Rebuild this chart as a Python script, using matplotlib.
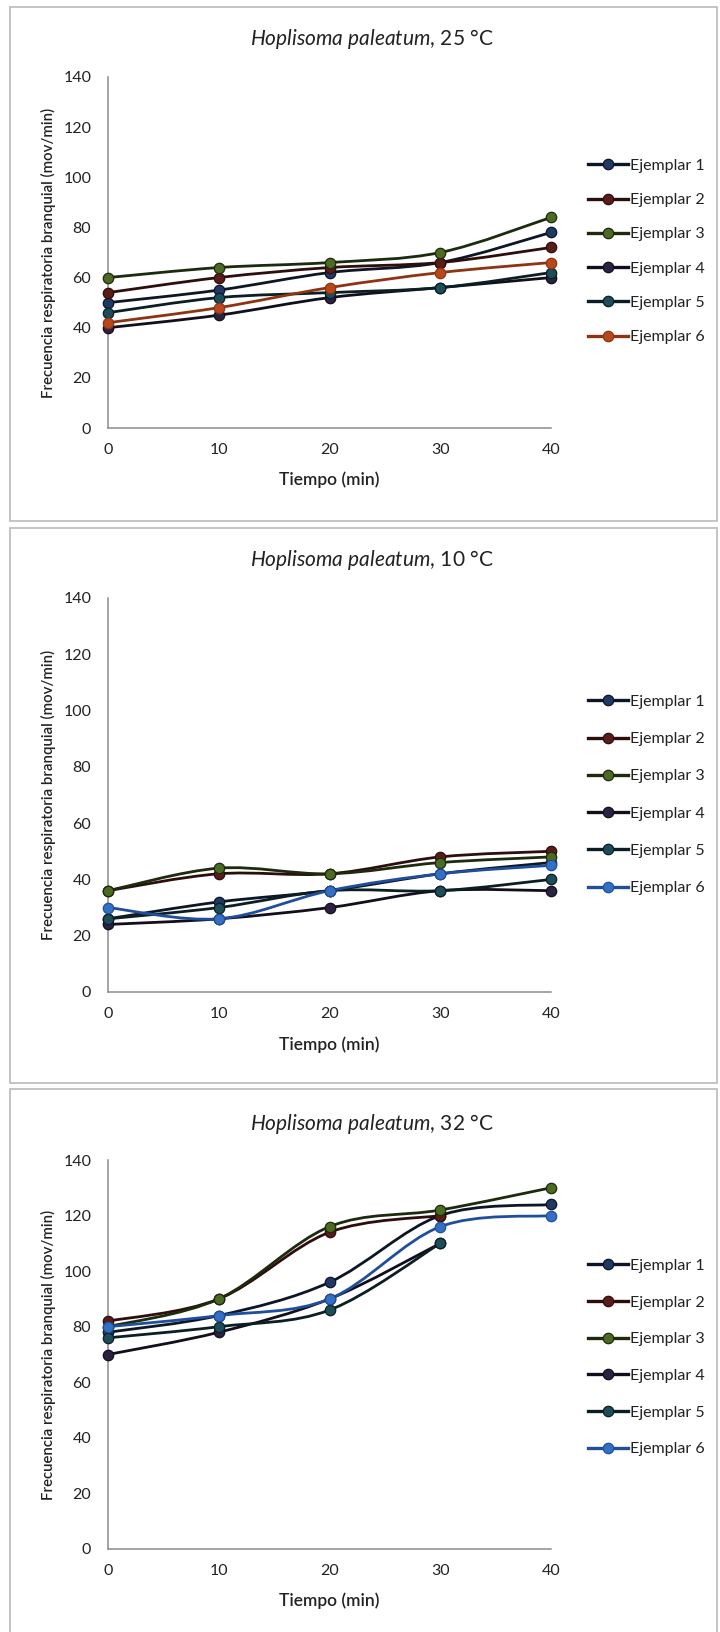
import numpy as np
import matplotlib
matplotlib.use("Agg")
import matplotlib.pyplot as plt
from matplotlib.path import Path
from matplotlib.patches import PathPatch, Rectangle
from matplotlib.lines import Line2D

plt.rcParams['font.family'] = ['Lato', 'DejaVu Sans']
plt.rcParams['mathtext.fontset'] = 'custom'
plt.rcParams['mathtext.it'] = 'Lato:italic'
plt.rcParams['mathtext.rm'] = 'Lato'

tiempo = [0, 10, 20, 30, 40]
labels = ["Ejemplar 1", "Ejemplar 2", "Ejemplar 3", "Ejemplar 4", "Ejemplar 5", "Ejemplar 6"]

# 25 °C
t25_e1 = [50, 55, 62, 66, 78]
t25_e2 = [54, 60, 64, 66, 72]
t25_e3 = [60, 64, 66, 70, 84]
t25_e4 = [40, 45, 52, 56, 60]
t25_e5 = [46, 52, 54, 56, 62]
t25_e6 = [42, 48, 56, 62, 66]

# 10 °C
t10_e1 = [26, 32, 36, 42, 46]
t10_e2 = [36, 42, 42, 48, 50]
t10_e3 = [36, 44, 42, 46, 48]
t10_e4 = [24, 26, 30, 36, 36]
t10_e5 = [26, 30, 36, 36, 40]
t10_e6 = [30, 26, 36, 42, 45]

# 32 °C (some series stop at 30 min)
t32_e1 = [78, 84, 96, 120, 124]
t32_e2 = [82, 90, 114, 120, np.nan]
t32_e3 = [80, 90, 116, 122, 130]
t32_e4 = [70, 78, 90, 110, np.nan]
t32_e5 = [76, 80, 86, 110, np.nan]
t32_e6 = [80, 84, 90, 116, 120]

# (line colour, marker colour) per specimen
estilo_base = [("#0c1626", "#1f3864"), ("#2e0d0d", "#5a1c18"), ("#1c2a0e", "#4b6a22"),
               ("#120e1c", "#2b2140"), ("#0b1e24", "#1c4d58")]
estilo_25 = estilo_base + [("#8e3412", "#b8481c")]
estilo_frio = estilo_base + [("#1f4f9c", "#3370c4")]

paneles = [
    ("25", [t25_e1, t25_e2, t25_e3, t25_e4, t25_e5, t25_e6], estilo_25),
    ("10", [t10_e1, t10_e2, t10_e3, t10_e4, t10_e5, t10_e6], estilo_frio),
    ("32", [t32_e1, t32_e2, t32_e3, t32_e4, t32_e5, t32_e6], estilo_frio),
]

W, H = 720, 1632
# pixel layout: (axis top, axis bottom, title y, xlabel y, legend first row y, legend step, box top, box bottom)
layout = [
    (77, 428, 39, 480, 160, 36.6, 7, 521),
    (598, 992, 560, 1045, 696, 39.6, 528, 1083),
    (1160, 1549, 1124, 1601, 1260, 39.0, 1089, 1700),
]
ax_left, ax_right = 108, 551


def smooth_path(x, y):
    # Excel-style smoothed line: cubic Bezier through the points
    pts = [(a, b) for a, b in zip(x, y) if not np.isnan(b)]
    pts = np.array(pts, dtype=float)
    verts = [pts[0]]
    codes = [Path.MOVETO]
    n = len(pts)
    for i in range(n - 1):
        p0 = pts[i - 1] if i > 0 else pts[i]
        p1 = pts[i]
        p2 = pts[i + 1]
        p3 = pts[i + 2] if i + 2 < n else pts[i + 1]
        c1 = p1 + (p2 - p0) / 6.0
        c2 = p2 - (p3 - p1) / 6.0
        verts += [c1, c2, p2]
        codes += [Path.CURVE4] * 3
    return Path(verts, codes)


fig = plt.figure(figsize=(W / 100, H / 100), dpi=100)

for (temp, series, estilos), (top, bot, ty, xly, ly0, lstep, bt, bb) in zip(paneles, layout):
    fig.patches.append(Rectangle((10 / W, 1 - bb / H), 707 / W, (bb - bt) / H,
                                 transform=fig.transFigure, fill=False,
                                 edgecolor="#bfbfbf", linewidth=1.3))
    ax = fig.add_axes([ax_left / W, 1 - bot / H, (ax_right - ax_left) / W, (bot - top) / H])
    handles = []
    for vals, (lc, mc), lab in zip(series, estilos, labels):
        ax.add_patch(PathPatch(smooth_path(tiempo, vals), fill=False, edgecolor=lc,
                               linewidth=2.0, zorder=2))
        ax.plot(tiempo, vals, linestyle="none", marker="o", markersize=7.5,
                markerfacecolor=mc, markeredgecolor=lc, markeredgewidth=0.9, zorder=3,
                clip_on=False)
        handles.append(Line2D([], [], color=lc, linewidth=2.4, marker="o", markersize=7.5,
                              markerfacecolor=mc, markeredgecolor=lc, markeredgewidth=0.9))
    ax.set_xlim(0, 40)
    ax.set_ylim(0, 140)
    ax.set_xticks(tiempo)
    ax.set_yticks(range(0, 141, 20))
    ax.tick_params(length=0, labelsize=11.5, colors="#222222")
    ax.tick_params(axis="x", pad=11)
    ax.tick_params(axis="y", pad=12)
    for s in ["top", "right"]:
        ax.spines[s].set_visible(False)
    for s in ["left", "bottom"]:
        ax.spines[s].set_color("#8c8c8c")
        ax.spines[s].set_linewidth(1.1)

    ax.set_xlabel("Tiempo (min)", fontsize=12.5, fontweight="semibold", color="#222222")
    ax.xaxis.set_label_coords(0.5, -(xly - bot) / (bot - top))
    ax.xaxis.label.set_va("center")
    ax.set_ylabel("Frecuencia respiratoria branquial (mov/min)", fontsize=10.8,
                  fontweight="semibold", color="#222222")
    ax.yaxis.set_label_coords(-(ax_left - 48) / (ax_right - ax_left), 0.5)
    ax.yaxis.label.set_va("center")

    fig.text(372 / W, 1 - ty / H, r"$\it{Hoplisoma\ paleatum}$" + ", " + temp + " °C",
             ha="center", va="center", fontsize=15, color="#222222")

    leg_center = ly0 + 2.5 * lstep
    leg = ax.legend(handles, labels, loc="center left", frameon=False,
                    bbox_to_anchor=(574 / W, 1 - leg_center / H), bbox_transform=fig.transFigure,
                    fontsize=11.5, handlelength=2.5, handletextpad=0.12,
                    labelspacing=(lstep - 16.5) / 16.0)
    for t in leg.get_texts():
        t.set_color("#222222")

fig.savefig("out.png", dpi=100)
